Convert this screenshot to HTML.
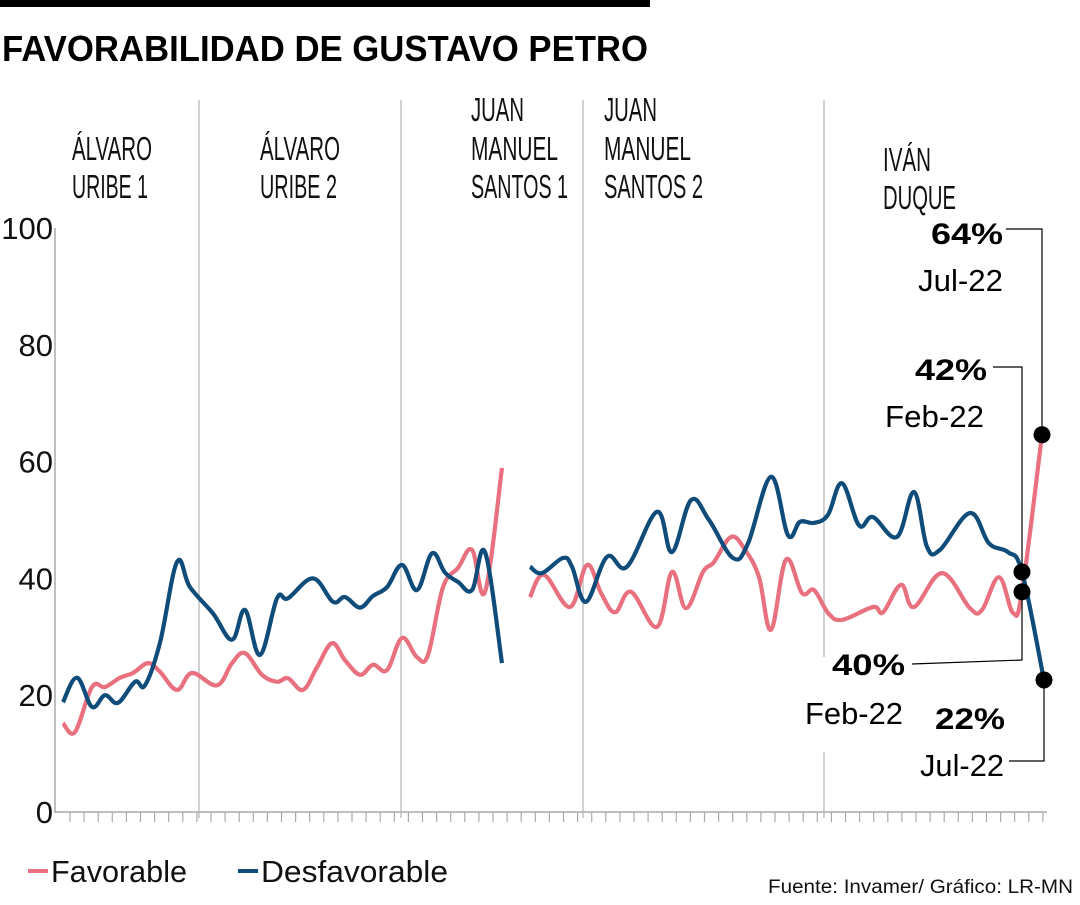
<!DOCTYPE html>
<html><head><meta charset="utf-8">
<style>
html,body{margin:0;padding:0;background:#fff;}
body{width:1080px;height:900px;overflow:hidden;}
svg text{font-family:"Liberation Sans Narrow","Liberation Sans",sans-serif;}
</style></head>
<body>
<svg id="chart" width="1080" height="900" viewBox="0 0 1080 900">
<rect x="0" y="0" width="650" height="7" fill="#000"/>
<text x="2" y="61" font-weight="bold" font-size="36" fill="#000" textLength="646" lengthAdjust="spacingAndGlyphs" style="font-family:'Liberation Sans Narrow','Liberation Sans',sans-serif">FAVORABILIDAD DE GUSTAVO PETRO</text>
<g id="grid"></g>
<g id="axes"></g>
<g id="series"></g>
<g id="labels" font-size="33" fill="#111">
<text x="72" y="160" textLength="80" lengthAdjust="spacingAndGlyphs">ÁLVARO</text>
<text x="72" y="198" textLength="76" lengthAdjust="spacingAndGlyphs">URIBE 1</text>
<text x="260" y="160" textLength="80" lengthAdjust="spacingAndGlyphs">ÁLVARO</text>
<text x="260" y="198" textLength="77" lengthAdjust="spacingAndGlyphs">URIBE 2</text>
<text x="471" y="121" textLength="53" lengthAdjust="spacingAndGlyphs">JUAN</text>
<text x="471" y="160" textLength="87" lengthAdjust="spacingAndGlyphs">MANUEL</text>
<text x="471" y="198" textLength="97" lengthAdjust="spacingAndGlyphs">SANTOS 1</text>
<text x="604" y="121" textLength="53" lengthAdjust="spacingAndGlyphs">JUAN</text>
<text x="604" y="160" textLength="87" lengthAdjust="spacingAndGlyphs">MANUEL</text>
<text x="604" y="198" textLength="99" lengthAdjust="spacingAndGlyphs">SANTOS 2</text>
<text x="883" y="171" textLength="48" lengthAdjust="spacingAndGlyphs">IVÁN</text>
<text x="883" y="209" textLength="73" lengthAdjust="spacingAndGlyphs">DUQUE</text>
</g>
<g id="annot" fill="#000">
<text x="931" y="244" font-size="30" font-weight="bold" style="font-family:'Liberation Sans',sans-serif" textLength="72" lengthAdjust="spacingAndGlyphs">64%</text>
<text x="918" y="291" font-size="31" textLength="85" lengthAdjust="spacingAndGlyphs">Jul-22</text>
<polyline points="1006,229 1042,229 1042,434" fill="none" stroke="#000" stroke-width="1.2"/>
<text x="915" y="380" font-size="30" font-weight="bold" style="font-family:'Liberation Sans',sans-serif" textLength="72" lengthAdjust="spacingAndGlyphs">42%</text>
<text x="885" y="427" font-size="31" textLength="99" lengthAdjust="spacingAndGlyphs">Feb-22</text>
<polyline points="993,367 1022,367 1022,571" fill="none" stroke="#000" stroke-width="1.2"/>
<text x="832" y="675" font-size="30" font-weight="bold" style="font-family:'Liberation Sans',sans-serif" textLength="73" lengthAdjust="spacingAndGlyphs">40%</text>
<text x="805" y="724" font-size="31" textLength="98" lengthAdjust="spacingAndGlyphs">Feb-22</text>
<polyline points="912,664 1022,660 1022,591" fill="none" stroke="#000" stroke-width="1.2"/>
<text x="935" y="729" font-size="30" font-weight="bold" style="font-family:'Liberation Sans',sans-serif" textLength="70" lengthAdjust="spacingAndGlyphs">22%</text>
<text x="920" y="776" font-size="31" textLength="84" lengthAdjust="spacingAndGlyphs">Jul-22</text>
<polyline points="1009,761 1044,761 1044,680" fill="none" stroke="#000" stroke-width="1.2"/>
</g>
<g id="dots"></g>
<g>
<line x1="28" y1="871" x2="48" y2="871" stroke="#e8707f" stroke-width="4"/>
<text x="51" y="882" font-size="31" fill="#111" textLength="136" lengthAdjust="spacingAndGlyphs" style="font-family:'Liberation Sans',sans-serif">Favorable</text>
<line x1="238" y1="871" x2="258" y2="871" stroke="#0f4c7a" stroke-width="4"/>
<text x="261" y="882" font-size="31" fill="#111" textLength="187" lengthAdjust="spacingAndGlyphs" style="font-family:'Liberation Sans',sans-serif">Desfavorable</text>
</g>
<text x="1073" y="893" font-size="19" fill="#111" text-anchor="end" textLength="305" lengthAdjust="spacingAndGlyphs" style="font-family:'Liberation Sans',sans-serif">Fuente: Invamer/ Gráfico: LR-MN</text>
</svg>
<script>
// time positions (period units) and values (%)
const favT1 = [5,17,34,47,62,75,90,102,119,134,159,174,187,204,219,230,245,259,274,287,302,315,329,344,359,370,385,400,414,427,444];
const favV1 = [15.2,13.7,21.4,21.4,23,23.8,25.5,24,20.9,23.8,21.7,25.5,27.2,23.5,22.3,22.9,20.9,24.8,28.9,26,23.5,25.2,24.3,29.8,26.5,26.9,38.5,41.8,44.9,37.7,58.9];
const desT1 = [5,19,34,47,60,77,87,102,119,132,155,174,187,202,219,230,255,275,287,302,315,329,344,359,374,387,400,414,427,444];
const desV1 = [18.8,23,18,20,18.7,22.3,21.7,29,42.8,38.5,34,29.5,34.6,26.9,36.6,36.6,40,36,36.8,35,37,38.5,42.3,38,44.3,41,39.4,38,44.5,25.5];
const favT2 = [472,486,512,529,543,557,573,599,614,628,645,656,673,687,701,713,728,744,756,770,784,815,825,843,856,884,912,924,941,955,964,984];
const favV2 = [36.8,40.6,35.1,42.3,37.5,34.2,37.7,31.7,41.1,34.9,41.1,42.8,47.1,44.9,40.2,31.2,43.2,37.5,38,34.1,32.9,35.1,34.2,38.9,35.1,40.9,34.9,34.6,40.2,34.1,37.7,64.6];
const desT2 = [472,484,505,514,528,549,569,599,614,633,651,675,690,713,730,742,756,770,784,801,815,839,856,869,882,912,931,950,964,986];
const desV2 = [42,40.9,43.5,42,36,43.7,42,51.4,44.5,53.4,50,43.5,46,57.4,47.4,49.7,49.5,50.9,56.3,49.1,50.5,47.1,54.8,45.4,44.9,51.2,46,44.5,41.1,22.6];
const yTicks = [0,20,40,60,80,100];
const periodBreaks = [141,343,525,766];

const X0 = 58, Y0 = 812, YH = 5.84;
function xs(t){ return X0 + t; }
function ys(v){ return Y0 - v*YH; }
const NS = 'http://www.w3.org/2000/svg';
function mk(tag, attrs, parent){ const e=document.createElementNS(NS,tag); for(const k in attrs) e.setAttribute(k,attrs[k]); parent.appendChild(e); return e; }

const grid = document.getElementById('grid');
periodBreaks.forEach((t,i)=>{
  const x = xs(t);
  if (i===3){
    const a = mk('line',{x1:x,y1:100,x2:x,y2:657,stroke:'#c4c4c4','stroke-width':1.5},grid);
    
    
    const b = mk('line',{x1:x,y1:752,x2:x,y2:818,stroke:'#c4c4c4','stroke-width':1.5},grid);
    
    
  } else {
    const l = mk('line',{x1:x,y1:100,x2:x,y2:818,stroke:'#c4c4c4','stroke-width':1.5},grid);
    
    
  }
});

const axes = document.getElementById('axes');
const ya = mk('line',{x1:55,y1:228,x2:55,y2:813,stroke:'#aaa','stroke-width':1.5},axes);


const xa = mk('line',{x1:55,y1:812,x2:1047,y2:812,stroke:'#aaa','stroke-width':1.5},axes);


for(let x=70; x<=1046; x+=14.1){
  const tk = mk('line',{x1:x,y1:812,x2:x,y2:822,stroke:'#aaa','stroke-width':1.2},axes);
  
  
}
yTicks.forEach(v=>{
  const t = mk('text',{x:53,y:ys(v)+11,'text-anchor':'end','font-size':31,fill:'#111'},axes);
  t.textContent = String(v);
  
  
});

function smooth(T,V){
  const p = T.map((t,i)=>[xs(t),ys(V[i])]);
  let d = 'M'+p[0][0]+','+p[0][1];
  for(let i=0;i<p.length-1;i++){
    const p0=p[Math.max(i-1,0)], p1=p[i], p2=p[i+1], p3=p[Math.min(i+2,p.length-1)];
    const k=0.18;
    const c1=[p1[0]+(p2[0]-p0[0])*k, p1[1]+(p2[1]-p0[1])*k];
    const c2=[p2[0]-(p3[0]-p1[0])*k, p2[1]-(p3[1]-p1[1])*k];
    d+=' C'+c1[0].toFixed(1)+','+c1[1].toFixed(1)+' '+c2[0].toFixed(1)+','+c2[1].toFixed(1)+' '+p2[0].toFixed(1)+','+p2[1].toFixed(1);
  }
  return d;
}
const series = document.getElementById('series');
[[favT1,favV1,'#e8707f','favorable-line'],[desT1,desV1,'#0f4c7a','desfavorable-line'],[favT2,favV2,'#e8707f','favorable-line'],[desT2,desV2,'#0f4c7a','desfavorable-line']].forEach(s=>{
  const p = mk('path',{d:smooth(s[0],s[1]),fill:'none',stroke:s[2],'stroke-width':4.2,'stroke-linejoin':'round'},series);
  
  
});

const dots = document.getElementById('dots');
const dotPts = [[desT2[desT2.length-2],desV2[desV2.length-2]],[favT2[favT2.length-2],favV2[favV2.length-2]],[favT2[favT2.length-1],favV2[favV2.length-1]],[desT2[desT2.length-1],desV2[desV2.length-1]]];
dotPts.forEach(d=>{
  const c = mk('circle',{cx:xs(d[0]),cy:ys(d[1]),r:8.5,fill:'#000'},dots);
  
  
});
</script>
</body></html>
